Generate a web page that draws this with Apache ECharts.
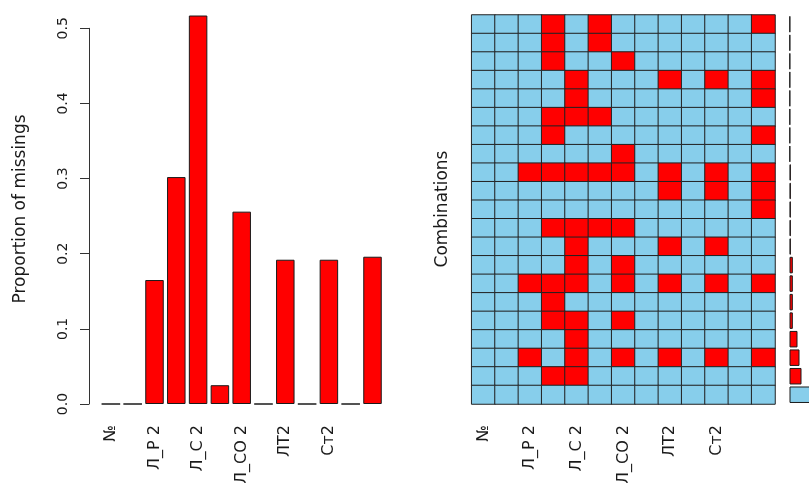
<!DOCTYPE html>
<html>
<head>
<meta charset="utf-8">
<script src="https://cdn.jsdelivr.net/npm/echarts@6/dist/echarts.min.js"></script>
<style>
  html, body { margin: 0; padding: 0; background: #ffffff; }
  #chart { width: 809px; height: 483px; }
</style>
</head>
<body>
<div id="chart"></div>
<script>
// Tick labels of the variables (only every other variable carries a label)
const varLabels = ['№', '', 'Л_Р 2', '', 'Л_С 2', '', 'Л_СО 2', '', 'ЛТ2', '', 'Ст2', '', ''];

// Proportion of missing values in each variable
const missingProp = [0, 0, 0.165, 0.302, 0.517, 0.025, 0.256, 0, 0.192, 0, 0.192, 0, 0.196];

// Tick values of the proportion axis
const propTicks = [0, 0.1, 0.2, 0.3, 0.4, 0.5];

// Missingness combinations, one string per pattern ('1' = missing, '0' = observed)
const combinations = [
  '0001010000001',
  '0001010000000',
  '0001001000000',
  '0000100010101',
  '0000100000001',
  '0001110000000',
  '0001000000001',
  '0000001000000',
  '0011111010101',
  '0000000010101',
  '0000000000001',
  '0001111000000',
  '0000100010100',
  '0000101000000',
  '0011101010101',
  '0001000000000',
  '0001101000000',
  '0000100000000',
  '0010101010101',
  '0001100000000',
  '0000000000000'
];

// How often each combination occurs
const combFreq = [1, 1, 1, 1, 1, 1, 1, 1, 2, 2, 2, 2, 2, 5, 5, 5, 5, 12, 15, 18, 60];

const RED = '#ff0000';
const SKY = '#87ceeb';
const INK = '#1a1a1a';
const FONT = 'DejaVu Sans';

const varIdx = varLabels.map((_, i) => String(i));
const combIdx = combinations.map((_, i) => String(i));

const cells = [];
combinations.forEach((row, r) => {
  row.split('').forEach((ch, c) => cells.push([c, r, Number(ch)]));
});

const chart = echarts.init(document.getElementById('chart'), null, { renderer: 'canvas' });

chart.setOption({
  animation: false,
  backgroundColor: '#ffffff',
  grid: [
    { left: 100, top: 28.3, width: 283.4, height: 375.7, outerBoundsMode: 'none', containLabel: false },
    { left: 471.7, top: 15, width: 303.3, height: 389, outerBoundsMode: 'none', containLabel: false },
    { left: 789.5, top: 15, width: 20, height: 389, outerBoundsMode: 'none', containLabel: false }
  ],
  xAxis: [
    {
      gridIndex: 0, type: 'category', data: varIdx,
      axisLine: { show: false }, axisTick: { show: false },
      axisLabel: {
        interval: 0, rotate: 90, margin: 21, color: INK,
        fontFamily: FONT, fontSize: 16,
        formatter: (v) => varLabels[+v]
      }
    },
    {
      gridIndex: 1, type: 'category', data: varIdx,
      axisLine: { show: false }, axisTick: { show: false },
      axisLabel: {
        interval: 0, rotate: 90, margin: 21, color: INK,
        fontFamily: FONT, fontSize: 16,
        formatter: (v) => varLabels[+v]
      }
    },
    {
      gridIndex: 2, type: 'value', min: 0, max: 30, show: false
    }
  ],
  yAxis: [
    {
      gridIndex: 0, type: 'value', min: propTicks[0], max: propTicks[propTicks.length - 1],
      interval: 0.1, offset: 11,
      axisLine: { show: true, lineStyle: { color: '#333', width: 1 } },
      axisTick: { show: true, length: 9, lineStyle: { color: '#333' } },
      splitLine: { show: false },
      axisLabel: {
        rotate: 90, margin: 19, color: INK, fontFamily: FONT, fontSize: 14,
        formatter: (v) => v.toFixed(1)
      }
    },
    {
      gridIndex: 1, type: 'category', data: combIdx, inverse: true, show: false
    },
    {
      gridIndex: 2, type: 'category', data: combIdx, inverse: true, show: false
    }
  ],
  visualMap: {
    show: false, type: 'piecewise', seriesIndex: 1, dimension: 2,
    pieces: [
      { value: 0, color: SKY },
      { value: 1, color: RED }
    ]
  },
  series: [
    {
      type: 'bar', xAxisIndex: 0, yAxisIndex: 0, data: missingProp,
      barWidth: 18.5, clip: false, silent: true,
      itemStyle: { color: RED, borderColor: INK, borderWidth: 1 }
    },
    {
      type: 'heatmap', xAxisIndex: 1, yAxisIndex: 1, data: cells, silent: true,
      itemStyle: { borderColor: '#222', borderWidth: 1 },
      emphasis: { disabled: true }
    },
    {
      type: 'bar', xAxisIndex: 2, yAxisIndex: 2, clip: false, silent: true,
      barCategoryGap: '11%',
      data: combFreq.map((f, i) => ({
        value: f,
        itemStyle: { color: i === combFreq.length - 1 ? SKY : RED }
      })),
      itemStyle: { borderColor: INK, borderWidth: 1 }
    }
  ],
  graphic: [
    {
      type: 'text', x: 20.5, y: 209, rotation: Math.PI / 2, silent: true,
      style: {
        text: 'Proportion of missings', fill: INK,
        font: '17px "DejaVu Sans"', textAlign: 'center', textVerticalAlign: 'middle'
      }
    },
    {
      type: 'text', x: 443, y: 209, rotation: Math.PI / 2, silent: true,
      style: {
        text: 'Combinations', fill: INK,
        font: '17px "DejaVu Sans"', textAlign: 'center', textVerticalAlign: 'middle'
      }
    }
  ]
});
</script>
</body>
</html>
